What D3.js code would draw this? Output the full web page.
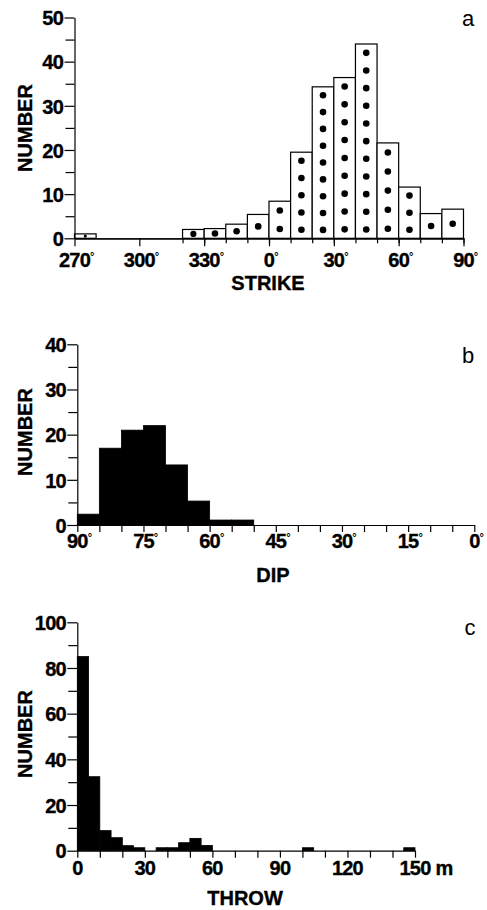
<!DOCTYPE html>
<html><head><meta charset="utf-8">
<script src="https://cdn.jsdelivr.net/npm/d3@7"></script>
<style>
body{margin:0;background:#fff}
text{font-family:"Liberation Sans",Arial,Helvetica,sans-serif;fill:#000}
text.b{stroke:#000;stroke-width:0.35px}
</style>
</head><body>
<svg id="chart" width="487" height="910"></svg>
<script>
// ---- data ----
const strikeStart  = [270,320,330,340,350,0,10,20,30,40,50,60,70,80];
const strikeCounts = [1,2,2.2,3.2,5.4,8.4,19.5,34.3,36.4,44,21.6,11.6,5.6,6.6];
const strikeDots   = [1,1,1,1,1,2,5,9,9,11,5,3,1,1];
const strikeTicks  = [270,300,330,0,30,60,90];
const strikeYTicks = [0,10,20,30,40,50];

const dipStart  = [90,85,80,75,70,65,60,55];
const dipCounts = [2.4,17,21,22,13.3,5.3,1.1,1.1];
const dipTicks  = [90,75,60,45,30,15,0];
const dipYTicks = [0,10,20,30,40];

const throwStart  = [0,5,10,15,20,25,35,40,45,50,55,100,145];
const throwCounts = [85,32.4,8.8,5.7,2.2,1.3,1.3,1.3,3.5,5.4,2.3,1.3,1.3];
const throwTicks  = [0,30,60,90,120,150];
const throwYTicks = [0,20,40,60,80,100];

const svg = d3.select("#chart");
const FONT = 20;

function yAxis(g, x0, y, major, minorStep, max){
  const minor = d3.range(minorStep, max, minorStep*2);
  const ga = g.append("g").attr("transform",`translate(${x0},0)`);
  ga.append("g").call(d3.axisLeft(y).tickValues(minor).tickSize(9).tickFormat("").tickSizeOuter(0))
    .call(s=>s.select(".domain").remove());
  const a = ga.append("g").call(d3.axisLeft(y).tickValues(major).tickSize(10).tickPadding(1.5).tickSizeOuter(0));
  a.selectAll("text").attr("class","b").attr("font-size",FONT).attr("font-weight","bold")
    .attr("letter-spacing",-0.8)
    .attr("font-family",'"Liberation Sans",Arial,sans-serif').attr("dy","0.36em");
}

function xLabels(g, x, vals, yb, sufSize, sufDy){
  vals.forEach(v=>{
    const t = g.append("text").attr("class","b").attr("x",x(v.pos)).attr("y",yb)
      .attr("text-anchor","middle").attr("font-size",FONT).attr("font-weight","bold")
      .attr("letter-spacing",-0.8).text(v.label);
    if(v.suffix){
      const w = t.node().getComputedTextLength();
      g.append("text").attr("x",x(v.pos)+w/2+(v.gap||0)).attr("y",yb+sufDy)
        .attr("class",v.cls||"").attr("font-size",sufSize).attr("font-weight","bold").text(v.suffix);
    }
  });
}

function axisTitle(g, xx, yy, txt){
  g.append("text").attr("class","b").attr("x",xx).attr("y",yy).attr("text-anchor","middle")
    .attr("font-size",FONT).attr("font-weight","bold").text(txt);
}
function numberTitle(g, cy){
  g.append("text").attr("class","b").attr("transform",`translate(25,${cy}) rotate(-90)`).attr("text-anchor","middle")
    .attr("dominant-baseline","central").attr("font-size",FONT).attr("font-weight","bold").text("NUMBER");
}

function styleAxes(g){
  g.selectAll(".tick line, .domain").attr("stroke","#000").attr("stroke-width",1.2);
}

// ---------- panel a: STRIKE ----------
{
  const unwrap = d => d < 270 ? d + 360 : d;
  const x = d3.scaleLinear([270,450],[74.5,463.5]);
  const y = d3.scaleLinear([0,50],[238.3,17.5]);
  const g = svg.append("g");
  const data = strikeStart.map((s,i)=>({u:unwrap(s),c:strikeCounts[i],n:strikeDots[i]}));
  g.selectAll("rect").data(data).join("rect")
    .attr("x",d=>x(d.u)).attr("width",d=>x(d.u+10)-x(d.u))
    .attr("y",d=>y(d.c)).attr("height",d=>y(0)-y(d.c))
    .attr("fill","#fff").attr("stroke","#000").attr("stroke-width",1.2);
  data.forEach(d=>{
    const ph = y(0)-y(d.c);
    const r = Math.min(3.3, ph*0.35);
    for(let k=0;k<d.n;k++){
      g.append("circle").attr("cx",x(d.u+5)).attr("cy",y((k+0.5)*d.c/d.n)).attr("r",r).attr("fill","#000");
    }
  });
  g.append("g").attr("transform",`translate(0,${y(0)})`)
    .call(d3.axisBottom(x).tickValues(d3.range(320,451,10)).tickSize(5).tickFormat("").tickSizeOuter(0));
  g.append("g").attr("transform",`translate(0,${y(0)})`)
    .call(d3.axisBottom(x).tickValues(strikeTicks.map(unwrap)).tickSize(8).tickFormat("").tickSizeOuter(0));
  yAxis(g, 74.5, y, strikeYTicks, 5, 50);
  styleAxes(g);
  xLabels(g, x, strikeTicks.map(v=>({pos:unwrap(v),label:String(v),suffix:"°"})), 267, 11, -7);
  axisTitle(g, 268, 290, "STRIKE");
  numberTitle(g, 128);
  g.append("text").attr("x",468).attr("y",26).attr("text-anchor","middle").attr("font-size",22).text("a");
}

// ---------- panel b: DIP ----------
{
  const x = d3.scaleLinear([90,0],[77.3,474.3]);
  const y = d3.scaleLinear([0,40],[525,344.3]);
  const g = svg.append("g");
  g.selectAll("rect").data(dipStart.map((s,i)=>({s,c:dipCounts[i]}))).join("rect")
    .attr("x",d=>x(d.s)).attr("width",d=>x(d.s-5)-x(d.s))
    .attr("y",d=>y(d.c)).attr("height",d=>y(0)-y(d.c))
    .attr("fill","#000").attr("stroke","#000").attr("stroke-width",0.8);
  g.append("g").attr("transform",`translate(0,${y(0)})`)
    .call(d3.axisBottom(x).tickValues(d3.range(90,-1,-5)).tickSize(7).tickFormat("").tickSizeOuter(0));
  yAxis(g, 77.3, y, dipYTicks, 5, 40);
  styleAxes(g);
  xLabels(g, x, dipTicks.map(v=>({pos:v,label:String(v),suffix:"°"})), 548, 11, -7);
  axisTitle(g, 273, 582, "DIP");
  numberTitle(g, 432);
  g.append("text").attr("x",468).attr("y",363).attr("text-anchor","middle").attr("font-size",22).text("b");
}

// ---------- panel c: THROW ----------
{
  const x = d3.scaleLinear([0,150],[77.3,415]);
  const y = d3.scaleLinear([0,100],[850.7,622.3]);
  const g = svg.append("g");
  g.selectAll("rect").data(throwStart.map((s,i)=>({s,c:throwCounts[i]}))).join("rect")
    .attr("x",d=>x(d.s)).attr("width",d=>x(d.s+5)-x(d.s))
    .attr("y",d=>y(d.c)).attr("height",d=>y(0)-y(d.c))
    .attr("fill","#000").attr("stroke","#000").attr("stroke-width",0.8);
  g.append("g").attr("transform",`translate(0,${y(0)})`)
    .call(d3.axisBottom(x).tickValues(d3.range(0,151,10)).tickSize(7).tickFormat("").tickSizeOuter(0));
  yAxis(g, 77.3, y, throwYTicks, 10, 100);
  styleAxes(g);
  xLabels(g, x, throwTicks.map(v=>({pos:v,label:String(v),suffix:v===150?"m":null,gap:5,cls:"b"})), 875, FONT, 0);
  axisTitle(g, 245, 905, "THROW");
  numberTitle(g, 734);
  g.append("text").attr("x",470).attr("y",635).attr("text-anchor","middle").attr("font-size",22).text("c");
}
</script>
</body></html>
